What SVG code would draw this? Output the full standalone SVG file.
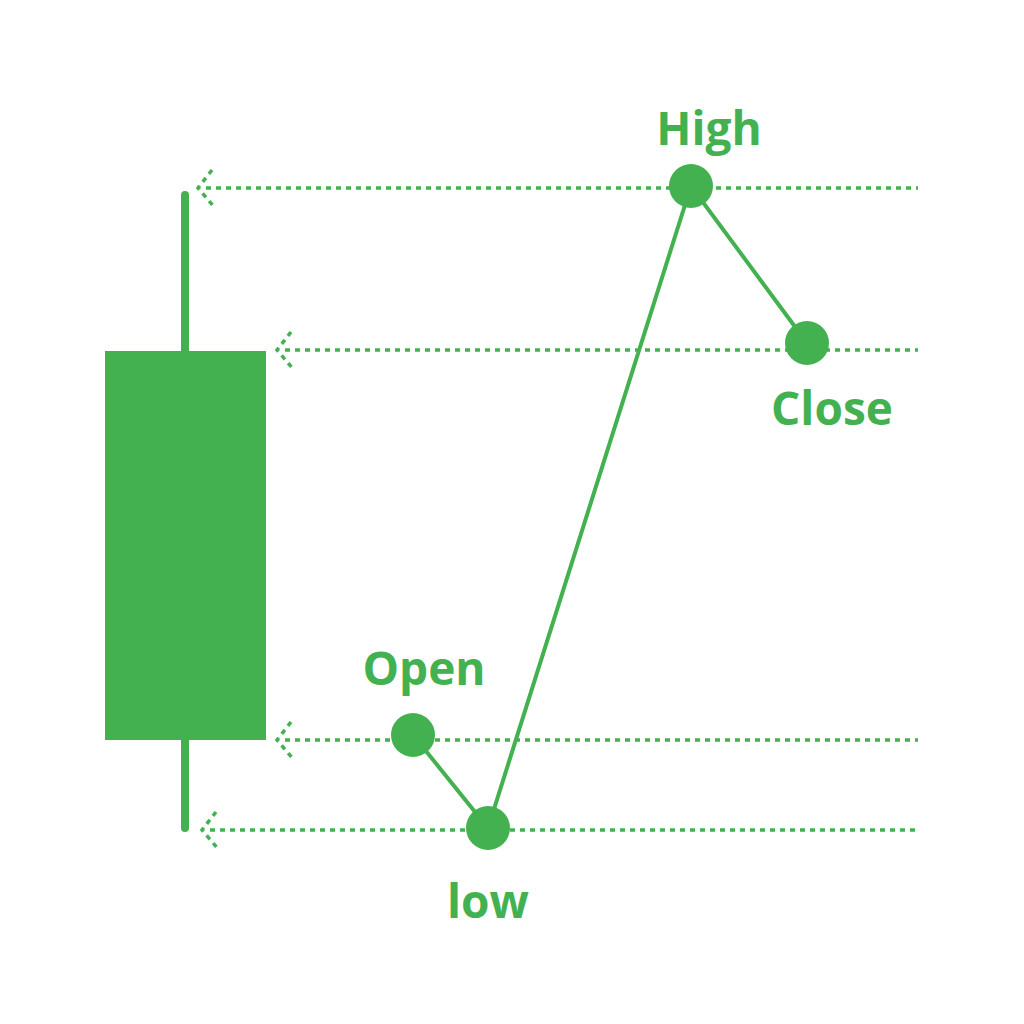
<svg xmlns="http://www.w3.org/2000/svg" width="1024" height="1024" viewBox="0 0 1024 1024">
<style>
.g{fill:#43b14f}
.dot{stroke:#43b14f;stroke-width:3.5;stroke-dasharray:5 5;fill:none}
.ln{stroke:#43b14f;stroke-width:4;fill:none}
.t{font-family:"Open Sans",sans-serif;font-weight:bold;font-size:46px;fill:#43b14f;text-anchor:middle}
</style>
<rect width="1024" height="1024" fill="#fff"/>
<g id="candle">
<line x1="185" y1="195" x2="185" y2="828" stroke="#43b14f" stroke-width="8" stroke-linecap="round"/>
<rect class="g" x="105" y="351" width="161" height="389"/>
</g>
<g id="connectors">
<path class="dot" d="M206 188H918M212 170L198 188L215 208"/>
<path class="dot" d="M285 350H918M291 332L277 350L294 370"/>
<path class="dot" d="M285 740H918M291 722L277 740L294 760"/>
<path class="dot" d="M210 830H918M216 812L202 830L219 850"/>
<path class="ln" d="M413 735L488 828L691 186L807 343"/>
</g>
<g id="high"><circle class="g" cx="691" cy="186" r="22"/><text class="t" x="709" y="145">High</text></g>
<g id="close"><circle class="g" cx="807" cy="343" r="22"/><text class="t" x="832" y="425">Close</text></g>
<g id="open"><circle class="g" cx="413" cy="735" r="22"/><text class="t" x="424" y="685">Open</text></g>
<g id="low"><circle class="g" cx="488" cy="828" r="22"/><text class="t" x="488" y="918">low</text></g>
</svg>
